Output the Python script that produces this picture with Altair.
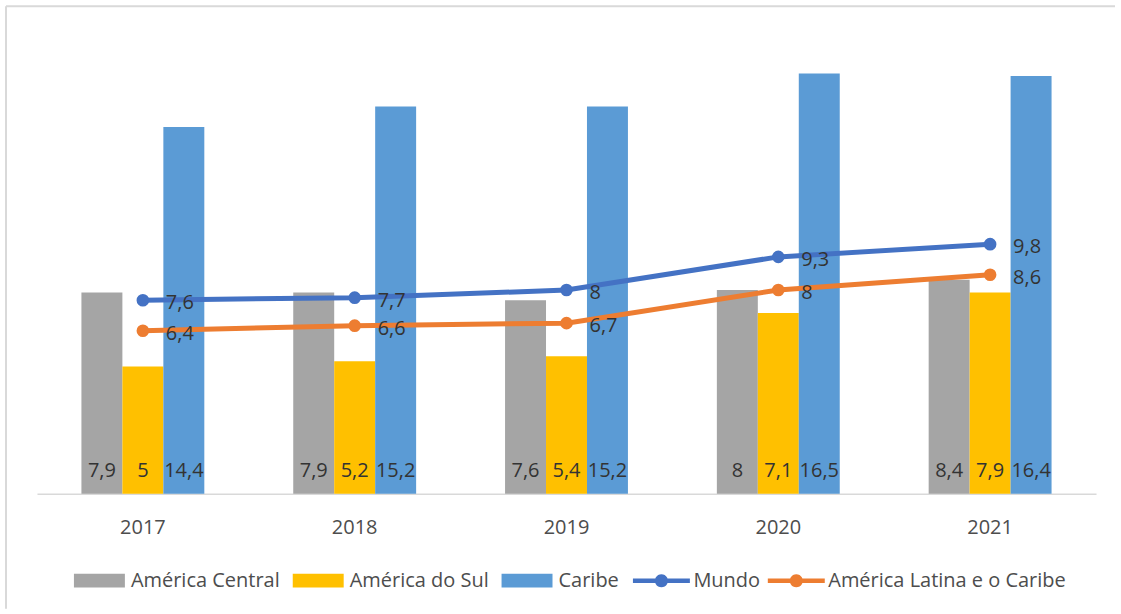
import math

import altair as alt
import pandas as pd

# Valores por ano (%)
anos = ["2017", "2018", "2019", "2020", "2021"]
america_central = [7.9, 7.9, 7.6, 8.0, 8.4]
america_do_sul = [5.0, 5.2, 5.4, 7.1, 7.9]
caribe = [14.4, 15.2, 15.2, 16.5, 16.4]
mundo = [7.6, 7.7, 8.0, 9.3, 9.8]
america_latina_caribe = [6.4, 6.6, 6.7, 8.0, 8.6]

series_barras = ["América Central", "América do Sul", "Caribe"]
series_linhas = ["Mundo", "América Latina e o Caribe"]
cores_barras = ["#A5A5A5", "#FFC000", "#5B9BD5"]
cores_linhas = ["#4472C4", "#ED7D31"]

FONTE = "Open Sans"
COR_TEXTO = "#333333"
COR_EIXO = "#4D4D4D"
COR_MOLDURA = "#D9D9D9"
LARGURA_BARRA = 41


def rotulo(v):
    return ("%g" % v).replace(".", ",")


def tabela(serie, valores):
    return pd.DataFrame(
        {"ano": anos, "serie": serie, "valor": valores, "rotulo": [rotulo(v) for v in valores], "base": 0}
    )


def simbolo_linha_marcador(meia_espessura=0.08, raio=0.23, lados=24):
    """Símbolo de legenda: traço horizontal com um marcador circular no centro."""
    traco = f"M-1,{-meia_espessura}H1V{meia_espessura}H-1Z"
    pontos = [
        (raio * math.cos(2 * math.pi * k / lados), raio * math.sin(2 * math.pi * k / lados))
        for k in range(lados)
    ]
    circulo = "M" + "L".join(f"{px:.4f},{py:.4f}" for px, py in pontos) + "Z"
    return traco + circulo


W, H = 1060, 459

x = alt.X(
    "ano:N",
    scale=alt.Scale(domain=anos, paddingInner=0.42, paddingOuter=0.21),
    axis=alt.Axis(
        title=None,
        labelAngle=0,
        labelFont=FONTE,
        labelFontSize=20,
        labelColor=COR_EIXO,
        labelPadding=24,
        ticks=False,
        domainColor=COR_MOLDURA,
        domainWidth=1.5,
        grid=False,
    ),
)
y = alt.Y("valor:Q", scale=alt.Scale(domain=[0, 18], nice=False), axis=None)
y_base = alt.Y("base:Q", axis=None)

legenda_barras = alt.Legend(
    title=None,
    orient="none",
    direction="horizontal",
    legendX=37,
    legendY=520,
    symbolType="M-1,-0.27H1V0.27H-1Z",
    symbolSize=2600,
    symbolStrokeWidth=0,
    symbolOpacity=1,
    labelFont=FONTE,
    labelFontSize=20,
    labelColor=COR_EIXO,
    labelOffset=6,
    labelLimit=400,
    columnPadding=12,
)

legenda_linhas = alt.Legend(
    title=None,
    orient="none",
    direction="horizontal",
    legendX=596,
    legendY=517,
    symbolType=simbolo_linha_marcador(),
    symbolSize=3250,
    symbolStrokeWidth=0,
    symbolOpacity=1,
    labelFont=FONTE,
    labelFontSize=20,
    labelColor=COR_EIXO,
    labelOffset=3,
    labelLimit=400,
    columnPadding=7,
)

cor_barras = alt.Color(
    "serie:N", scale=alt.Scale(domain=series_barras, range=cores_barras), legend=legenda_barras
)

# Moldura: linhas superior e esquerda ao redor do gráfico
base_moldura = alt.Chart(pd.DataFrame({"k": [0]}))
moldura_topo = base_moldura.mark_rule(color=COR_MOLDURA, strokeWidth=2).encode(
    x=alt.value(-31), x2=alt.value(1079), y=alt.value(-29)
)
moldura_esq = base_moldura.mark_rule(color=COR_MOLDURA, strokeWidth=2).encode(
    x=alt.value(-31), y=alt.value(-29), y2=alt.value(574)
)

# Barras agrupadas: cada série deslocada a partir do centro do ano
camadas = [moldura_topo, moldura_esq]
for i, (serie, valores) in enumerate(zip(series_barras, [america_central, america_do_sul, caribe])):
    desloc = (i - 1) * LARGURA_BARRA
    dados = tabela(serie, valores)
    camadas.append(
        alt.Chart(dados)
        .mark_bar(width=LARGURA_BARRA, xOffset=desloc)
        .encode(x=x, y=y, color=cor_barras)
    )
    camadas.append(
        alt.Chart(dados)
        .mark_text(font=FONTE, fontSize=20, color=COR_TEXTO, baseline="alphabetic", dx=desloc, dy=-17)
        .encode(x=x, y=y_base, text="rotulo:N")
    )

# Linhas: Mundo e América Latina e o Caribe
for serie, valores, cor in zip(series_linhas, [mundo, america_latina_caribe], cores_linhas):
    camadas.append(
        alt.Chart(tabela(serie, valores)).mark_line(strokeWidth=5, color=cor).encode(x=x, y=y)
    )

linhas = pd.concat([tabela(s, v) for s, v in zip(series_linhas, [mundo, america_latina_caribe])])

camada_pontos = (
    alt.Chart(linhas)
    .mark_circle(size=160, opacity=1)
    .encode(
        x=x,
        y=y,
        fill=alt.Fill(
            "serie:N", scale=alt.Scale(domain=series_linhas, range=cores_linhas), legend=legenda_linhas
        ),
    )
)

rotulos_linhas = (
    alt.Chart(linhas)
    .mark_text(font=FONTE, fontSize=20, color=COR_TEXTO, align="left", baseline="middle", dx=23, dy=3)
    .encode(x=x, y=y, text="rotulo:N")
)

chart = (
    alt.layer(*camadas, camada_pontos, rotulos_linhas)
    .properties(width=W, height=H, padding=5)
    .configure_view(strokeWidth=0)
)

chart.save("out.html", embed_options={"renderer": "svg", "actions": False})
